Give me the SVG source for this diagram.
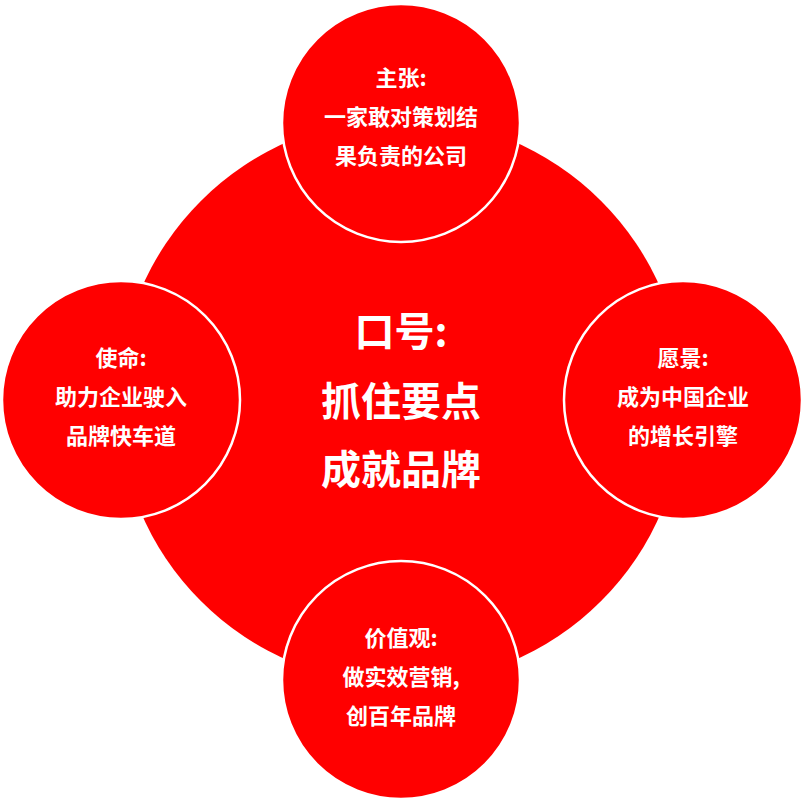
<svg xmlns="http://www.w3.org/2000/svg" width="803" height="803" viewBox="0 0 803 803">
<style>
.c{fill:#ff0000;stroke:#fff;stroke-width:2.5}
text{fill:#fff;font-family:"Noto Sans CJK SC",sans-serif;font-weight:bold;text-anchor:middle}
.s{font-size:22px}
.b{font-size:40px}
</style>
<rect width="803" height="803" fill="#fff"/>
<g id="center"><circle cx="401" cy="401" r="283" fill="#ff0000"/>
<text class="b" x="401" y="346">口号:</text><text class="b" x="401" y="416">抓住要点</text><text class="b" x="401" y="484">成就品牌</text></g>
<g id="connectors"/>
<g id="top"><circle class="c" cx="401" cy="123" r="119"/>
<text class="s" x="401" y="86">主张:</text><text class="s" x="401" y="125">一家敢对策划结</text><text class="s" x="401" y="164">果负责的公司</text></g>
<g id="left"><circle class="c" cx="121" cy="400" r="119"/>
<text class="s" x="121" y="366">使命:</text><text class="s" x="121" y="405">助力企业驶入</text><text class="s" x="121" y="444">品牌快车道</text></g>
<g id="right"><circle class="c" cx="683" cy="400" r="119"/>
<text class="s" x="683" y="366">愿景:</text><text class="s" x="683" y="405">成为中国企业</text><text class="s" x="683" y="444">的增长引擎</text></g>
<g id="bottom"><circle class="c" cx="401" cy="680" r="119"/>
<text class="s" x="401" y="646">价值观:</text><text class="s" x="401" y="685">做实效营销,</text><text class="s" x="401" y="724">创百年品牌</text></g>
</svg>
